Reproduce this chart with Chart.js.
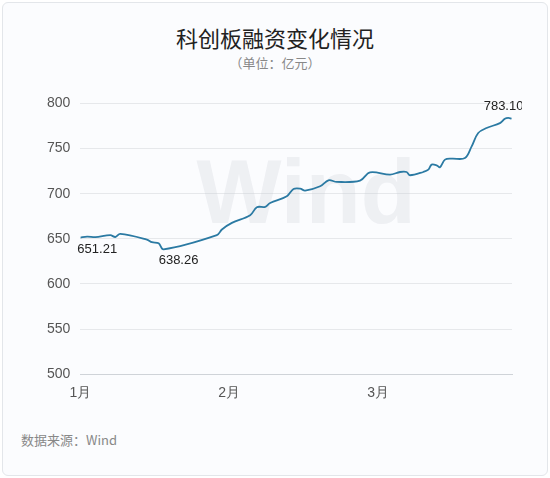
<!DOCTYPE html>
<html>
<head>
<meta charset="utf-8">
<script src="https://cdn.jsdelivr.net/npm/chart.js@4"></script>
<style>
  body { margin: 0; background: #fff; font-family: "Noto Sans CJK SC", sans-serif; }
  .card { position: absolute; left: 2px; top: 2px; width: 544px; height: 472px; border: 1px solid #e3e6ea; border-radius: 6px; background: #fbfcfe; }
  .title { position: absolute; top: 18px; width: 100%; text-align: center; font-size: 22px; color: #222; }
  .unit { position: absolute; top: 50px; width: 100%; text-align: center; font-size: 13px; color: #888; }
  .src { position: absolute; left: 18px; top: 427px; font-size: 13px; color: #888; }
  .wrap { position: absolute; left: 34px; top: 82px; width: 485px; height: 320px; }
</style>
</head>
<body>
<div class="card">
  <div class="title">科创板融资变化情况</div>
  <div class="unit">（单位：亿元）</div>
  <div class="wrap"><canvas class="chart-line"></canvas></div>
  <div class="src">数据来源：Wind</div>
</div>
<script>
// x in months since Jan 1 (1月 = 0, 2月 = 1, 3月 = 2)
const xs = [0.000, 0.045, 0.101, 0.201, 0.235, 0.268, 0.447, 0.481, 0.526, 0.559,
  0.917, 0.951, 1.018, 1.141, 1.186, 1.242, 1.275, 1.387, 1.432, 1.477, 1.510,
  1.611, 1.667, 1.723, 1.879, 1.946, 2.081, 2.148, 2.192, 2.215, 2.304, 2.338,
  2.360, 2.394, 2.416, 2.450, 2.495, 2.584, 2.629, 2.673, 2.729, 2.819, 2.852, 2.875, 2.897];
const vals = [651.21, 652.5, 651.8, 654.0, 652.0, 655.5, 649.2, 646.2, 645.1, 638.26,
  654.0, 660.3, 667.6, 676.1, 685.0, 685.4, 689.7, 697.1, 705.2, 705.6, 703.4,
  708.2, 714.8, 713.0, 714.5, 723.7, 721.1, 724.0, 724.0, 720.4, 724.0, 726.6,
  732.2, 731.4, 729.2, 737.7, 738.8, 739.5, 752.4, 767.2, 772.7, 778.2, 783.0, 784.0, 783.10];
const monthLabels = ["1月", "2月", "3月"];
const yTicks = [500, 550, 600, 650, 700, 750, 800];
const notes = [0, 9, vals.length - 1];

const pts = xs.map((x, i) => ({ x: x, y: vals[i] }));

const extras = {
  id: "extras",
  beforeDatasetsDraw(chart) {
    const c = chart.ctx, a = chart.chartArea;
    c.save();
    c.fillStyle = "rgba(200,205,212,0.25)";
    c.font = "bold 90px Arial";
    c.textAlign = "center";
    c.textBaseline = "middle";
    c.fillText("Wind", (a.left + a.right) / 2 + 10, a.top + 95);
    c.restore();
  },
  afterDatasetsDraw(chart) {
    const c = chart.ctx, xS = chart.scales.x, yS = chart.scales.y;
    c.save();
    c.fillStyle = "#222";
    c.font = "13px Arial";
    notes.forEach((i, k) => {
      const px = xS.getPixelForValue(xs[i]), py = yS.getPixelForValue(vals[i]);
      if (k === 2) { c.textAlign = "center"; c.textBaseline = "bottom"; c.fillText(vals[i].toFixed(2), px - 8, py - 6); }
      else { c.textAlign = k === 0 ? "left" : "center"; c.textBaseline = "top"; c.fillText(vals[i].toFixed(2), k === 0 ? px - 3 : px + 15, py + 5); }
    });
    c.restore();
  }
};

const ctx = document.querySelector(".chart-line").getContext("2d");
new Chart(ctx, {
  type: "line",
  data: { datasets: [{ data: pts, borderColor: "#2b7aa3", borderWidth: 1.8, pointRadius: 0, tension: 0.35, fill: false }] },
  options: {
    responsive: true,
    maintainAspectRatio: false,
    animation: false,
    layout: { padding: { right: 10, top: 4 } },
    plugins: { legend: { display: false }, tooltip: { enabled: false } },
    scales: {
      x: {
        type: "linear", min: 0, max: 2.9,
        afterBuildTicks: s => { s.ticks = monthLabels.map((_, i) => ({ value: i })); },
        ticks: { callback: v => monthLabels[v], color: "#555", font: { size: 14 }, maxRotation: 0 },
        grid: { display: false },
        border: { color: "#cfd3d8" }
      },
      y: {
        min: 500, max: 800,
        afterBuildTicks: s => { s.ticks = yTicks.map(v => ({ value: v })); },
        ticks: { color: "#555", font: { size: 14 }, padding: 10 },
        grid: { color: "#e6e8eb", drawTicks: false },
        border: { display: false }
      }
    }
  },
  plugins: [extras]
});
</script>
</body>
</html>
